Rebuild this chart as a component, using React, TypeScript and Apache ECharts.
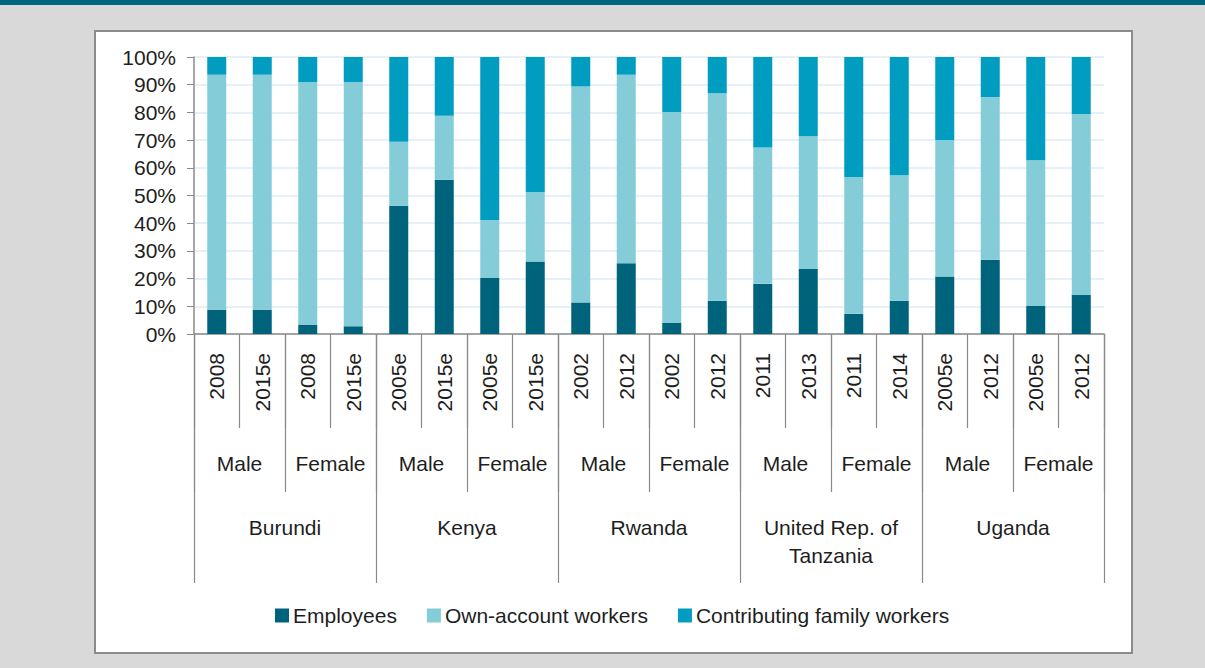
import React, { useEffect, useRef } from "react";
import * as echarts from "echarts";

const years = ["2008", "2015e", "2008", "2015e", "2005e", "2015e", "2005e", "2015e", "2002", "2012", "2002", "2012", "2011", "2013", "2011", "2014", "2005e", "2012", "2005e", "2012"];
const sexes = ["Male", "Female", "Male", "Female", "Male", "Female", "Male", "Female", "Male", "Female"];
const countries = ["Burundi", "Kenya", "Rwanda", "United Rep. of\nTanzania", "Uganda"];

const employees = [8.8, 8.8, 3.4, 2.8, 46.3, 55.7, 20.2, 26.2, 11.4, 25.5, 4.1, 12.0, 18.1, 23.5, 7.3, 12.0, 20.8, 26.8, 10.1, 14.2];
const ownAccount = [84.8, 84.8, 87.5, 88.1, 23.1, 23.1, 21.0, 25.1, 78.0, 68.1, 76.0, 74.9, 49.2, 47.9, 49.4, 45.3, 49.2, 58.7, 52.6, 65.2];
const contributing = [6.4, 6.4, 9.1, 9.1, 30.6, 21.2, 58.8, 48.7, 10.6, 6.4, 19.9, 13.1, 32.7, 28.6, 43.3, 42.7, 30.0, 14.5, 37.3, 20.6];

const yTicks = { min: 0, max: 100, interval: 10 };

const FONT = "'Liberation Sans', Arial, sans-serif";
const TEXT = "#1e1e1e";
const AXIS = "#8a8a8a";

export default function App() {
  const ref = useRef<HTMLDivElement>(null);
  useEffect(() => {
    if (!ref.current) return;
    const chart = echarts.init(ref.current, undefined, { renderer: "svg" });
    const labelBase = { fontFamily: FONT, fontSize: 21, color: TEXT };
    chart.setOption({
      animation: false,
      backgroundColor: "#d9d9d9",
      textStyle: { fontFamily: FONT },
      graphic: [
        { type: "rect", shape: { x: 0, y: 0, width: 1205, height: 5 }, style: { fill: "#006580" }, silent: true, z: -10 },
        { type: "rect", shape: { x: 95, y: 31, width: 1037, height: 622 }, style: { fill: "#ffffff", stroke: "#8c8c8c", lineWidth: 2 }, silent: true, z: -10 },
      ],
      legend: {
        left: 270,
        top: 600,
        itemWidth: 14,
        itemHeight: 14,
        itemGap: 30,
        icon: "rect",
        textStyle: { ...labelBase, padding: [0, 0, 0, -1] },
        data: ["Employees", "Own-account workers", "Contributing family workers"],
      },
      grid: { left: 194, right: 101, top: 57, bottom: 334 },
      xAxis: [
        {
          type: "category",
          data: years,
          position: "bottom",
          axisLine: { show: true, lineStyle: { color: AXIS, width: 1.5 } },
          axisTick: { show: true, length: 94, interval: 0, lineStyle: { color: AXIS, width: 1.2 } },
          axisLabel: { ...labelBase, interval: 0, rotate: 90, margin: 19 },
          splitLine: { show: false },
        },
        {
          type: "category",
          data: sexes,
          position: "bottom",
          axisLine: { show: false },
          axisTick: { show: true, length: 158, interval: 0, lineStyle: { color: AXIS, width: 1.2 } },
          axisLabel: { ...labelBase, interval: 0, margin: 115, lineHeight: 28 },
        },
        {
          type: "category",
          data: countries,
          position: "bottom",
          axisLine: { show: false },
          axisTick: { show: true, length: 249, interval: 0, lineStyle: { color: AXIS, width: 1.2 } },
          axisLabel: { ...labelBase, interval: 0, margin: 179, lineHeight: 28 },
        },
      ],
      yAxis: {
        type: "value",
        min: yTicks.min,
        max: yTicks.max,
        interval: yTicks.interval,
        axisLine: { show: true, lineStyle: { color: AXIS, width: 1.5 } },
        axisTick: { show: true, length: 7, lineStyle: { color: AXIS } },
        axisLabel: { ...labelBase, margin: 18, formatter: "{value}%" },
        splitLine: { show: true, lineStyle: { color: "#dcedf3", width: 1.5 } },
      },
      series: [
        { name: "Employees", type: "bar", stack: "s", barWidth: 19, data: employees, itemStyle: { color: "#00637c" } },
        { name: "Own-account workers", type: "bar", stack: "s", barWidth: 19, data: ownAccount, itemStyle: { color: "#85ccd9" } },
        { name: "Contributing family workers", type: "bar", stack: "s", barWidth: 19, data: contributing, itemStyle: { color: "#009dc0" } },
      ],
    });
    return () => chart.dispose();
  }, []);
  return <div ref={ref} style={{ position: "fixed", left: 0, top: 0, width: 1205, height: 668 }} />;
}
